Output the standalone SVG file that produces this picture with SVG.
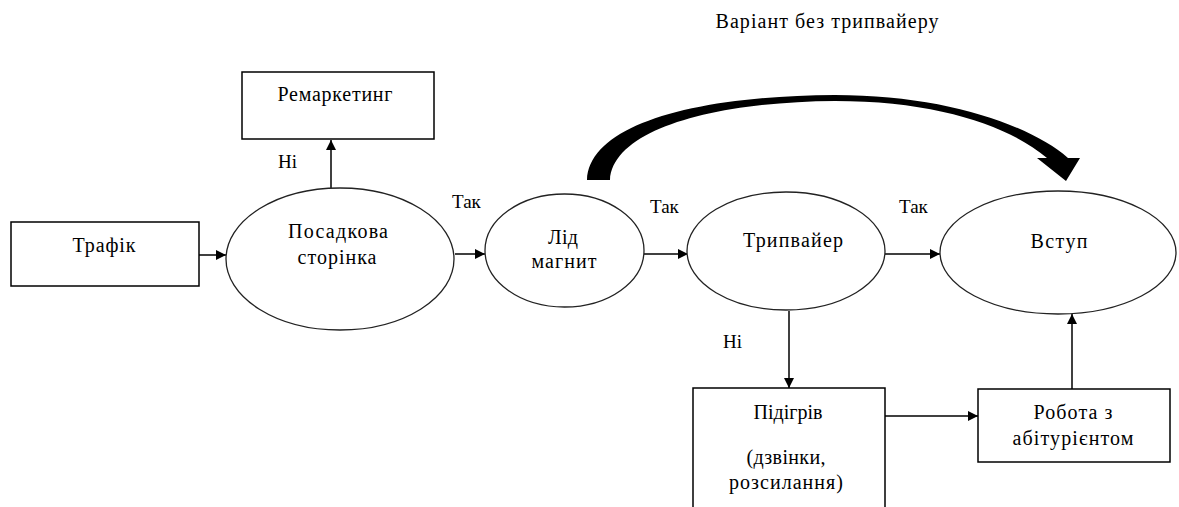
<svg xmlns="http://www.w3.org/2000/svg" width="1179" height="507" viewBox="0 0 1179 507">
<style>
.box{fill:#fff;stroke:#000;stroke-width:1.5}
.ell{fill:#fff;stroke:#222;stroke-width:1.3}
.t{font-family:"Liberation Serif","Times New Roman",serif;font-size:20px;fill:#000;text-anchor:middle}
.l{font-family:"Liberation Serif","Times New Roman",serif;font-size:19px;fill:#000}
.c{stroke:#000;stroke-width:1.5;fill:none;marker-end:url(#ah)}
</style>
<defs>
<marker id="ah" viewBox="0 0 10 10" refX="10" refY="5" markerWidth="10" markerHeight="10" markerUnits="userSpaceOnUse" orient="auto">
<path d="M0,0 L10,5 L0,10 Z" fill="#000"/>
</marker>
</defs>
<text class="t" x="827" y="28" textLength="223" lengthAdjust="spacing">Варіант без трипвайеру</text>
<g id="connectors">
<line class="c" x1="199" y1="255" x2="226" y2="255"/>
<line class="c" x1="331" y1="188" x2="331" y2="140"/>
<line class="c" x1="455" y1="254" x2="485" y2="254"/>
<line class="c" x1="644" y1="254" x2="688" y2="254"/>
<line class="c" x1="885" y1="254" x2="940" y2="254"/>
<line class="c" x1="789" y1="311" x2="789" y2="388"/>
<line class="c" x1="885" y1="416" x2="978" y2="416"/>
<line class="c" x1="1072" y1="389" x2="1072" y2="314"/>
<path d="M587,180 C589,126 690,96 835,95 C945,95 1030,125 1068,158 L1080,158 L1066,181 L1037,158 L1047,158 C1010,127 940,101 835,101 C712,102 613,130 610,180 Z" fill="#000"/>
</g>
<g id="trafik">
<rect class="box" x="11" y="222" width="188" height="64"/>
<text class="t" x="104" y="252" textLength="63" lengthAdjust="spacing">Трафік</text>
</g>
<g id="remarketing">
<rect class="box" x="242" y="72" width="192" height="67"/>
<text class="t" x="335" y="101" textLength="115" lengthAdjust="spacing">Ремаркетинг</text>
</g>
<g id="posadkova">
<ellipse class="ell" cx="340" cy="259" rx="114" ry="71"/>
<text class="t" x="338" y="238" textLength="100" lengthAdjust="spacing">Посадкова</text>
<text class="t" x="337" y="264" textLength="79" lengthAdjust="spacing">сторінка</text>
</g>
<g id="lid">
<ellipse class="ell" cx="564.5" cy="250.5" rx="79.5" ry="56.5"/>
<text class="t" x="563" y="244" textLength="30" lengthAdjust="spacing">Лід</text>
<text class="t" x="564" y="268" textLength="65" lengthAdjust="spacing">магнит</text>
</g>
<g id="tripvaier">
<ellipse class="ell" cx="786" cy="251" rx="99" ry="59"/>
<text class="t" x="793" y="247" textLength="100" lengthAdjust="spacing">Трипвайер</text>
</g>
<g id="vstup">
<ellipse class="ell" cx="1058" cy="252.5" rx="118" ry="61.5"/>
<text class="t" x="1059" y="248" textLength="57" lengthAdjust="spacing">Вступ</text>
</g>
<g id="pidigriv">
<path class="box" d="M693,520 L693,388 L885,388 L885,520"/>
<text class="t" x="788" y="419" textLength="69" lengthAdjust="spacing">Підігрів</text>
<text class="t" x="786" y="464" textLength="79" lengthAdjust="spacing">(дзвінки,</text>
<text class="t" x="786" y="489" textLength="114" lengthAdjust="spacing">розсилання)</text>
</g>
<g id="robota">
<rect class="box" x="978" y="389" width="192" height="73"/>
<text class="t" x="1073" y="419" textLength="79" lengthAdjust="spacing">Робота з</text>
<text class="t" x="1073" y="445" textLength="121" lengthAdjust="spacing">абітурієнтом</text>
</g>
<g id="labels">
<text class="l" x="278" y="168">Ні</text>
<text class="l" x="452" y="208">Так</text>
<text class="l" x="650" y="213">Так</text>
<text class="l" x="899" y="213">Так</text>
<text class="l" x="723" y="348">Ні</text>
</g>
</svg>
